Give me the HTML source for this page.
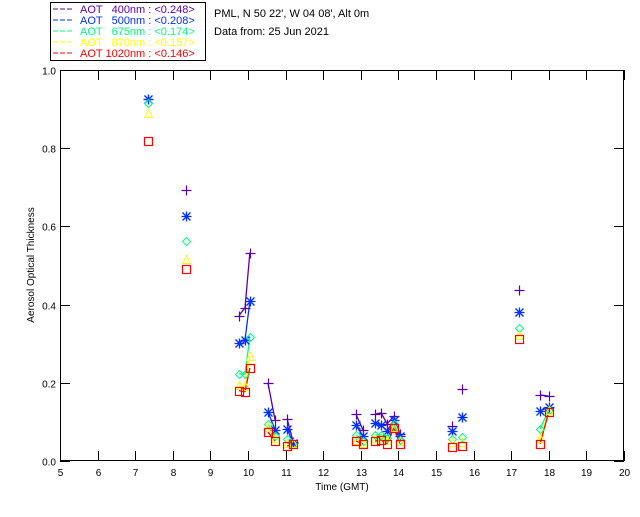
<!DOCTYPE html>
<html><head><meta charset="utf-8">
<style>
body{margin:0;background:#fff;width:640px;height:512px;overflow:hidden;font-family:"Liberation Sans",sans-serif;}
svg text{font-family:"Liberation Sans",sans-serif;}
</style></head>
<body>
<svg id="chart" width="640" height="512" xmlns="http://www.w3.org/2000/svg">
  <g id="legend">
    <rect x="50.5" y="2.5" width="155" height="58" fill="#fff" stroke="#000"/>
  </g>
  <text x="214" y="17" font-size="11" fill="#000">PML, N 50 22', W 04 08', Alt 0m</text>
  <text x="214" y="35" font-size="11" fill="#000">Data from: 25 Jun 2021</text>
  <g id="axes"></g>
  <g id="lines"></g>
  <g id="marks"></g>
  <text x="0" y="0" font-size="10" transform="translate(34,265) rotate(-90)" text-anchor="middle">Aerosol Optical Thickness</text>
  <text x="342" y="490" font-size="10" text-anchor="middle">Time (GMT)</text>
</svg>
<script>
const times = [7.34,8.35,9.76,9.92,10.05,10.53,10.72,11.04,11.2,12.87,13.06,13.38,13.54,13.7,13.88,14.04,15.43,15.69,17.21,17.77,18.0];
const aot400 = [0.926,0.693,0.372,0.392,0.533,0.2,0.105,0.108,0.049,0.12,0.079,0.12,0.123,0.095,0.115,0.069,0.09,0.185,0.438,0.169,0.166];
const aot500 = [0.925,0.626,0.303,0.31,0.408,0.126,0.08,0.082,0.046,0.092,0.064,0.097,0.092,0.077,0.105,0.064,0.077,0.113,0.382,0.128,0.138];
const aot675 = [0.916,0.562,0.223,0.223,0.318,0.095,0.064,0.056,0.043,0.067,0.05,0.067,0.067,0.059,0.095,0.054,0.056,0.062,0.341,0.082,0.131];
const aot870 = [0.887,0.515,0.192,0.19,0.267,0.085,0.056,0.044,0.044,0.052,0.044,0.056,0.056,0.051,0.085,0.049,0.046,0.045,0.32,0.056,0.128];
const aot1020 = [0.818,0.49,0.18,0.177,0.238,0.074,0.051,0.038,0.044,0.051,0.044,0.051,0.054,0.044,0.085,0.044,0.036,0.038,0.313,0.044,0.126];
const groups = [0,1,2,2,2,3,3,4,4,5,5,6,6,6,6,6,7,8,9,10,10];
const xTicks = [5,6,7,8,9,10,11,12,13,14,15,16,17,18,19,20];
const yTicks = [0,0.2,0.4,0.6,0.8,1.0];
const yTickLabels = ["0.0","0.2","0.4","0.6","0.8","1.0"];
const seriesNames = ["400nm","500nm","675nm","870nm","1020nm"];
const seriesMeans = ["<0.248>","<0.208>","<0.174>","<0.157>","<0.146>"];

const NS="http://www.w3.org/2000/svg";
const L=60,R=624,T=70,B=461;
const xs=t=>L+(t-5)/(20-5)*(R-L);
const ys=v=>B-v*(B-T);
function mk(tag,attrs,parent){const e=document.createElementNS(NS,tag);for(const k in attrs)e.setAttribute(k,attrs[k]);parent.appendChild(e);return e;}
const axes=document.getElementById('axes');
mk('rect',{x:L+.5,y:T+.5,width:R-L-1,height:B-T-1,fill:'none',stroke:'#000'},axes);
xTicks.forEach(t=>{
  const x=Math.round(xs(t))+.5;
  const tk=mk('line',{x1:x,y1:B,x2:x,y2:B-10,stroke:'#000'},axes);
  
  
  mk('line',{x1:x,y1:T,x2:x,y2:T+10,stroke:'#000'},axes);
  const lb=mk('text',{x:x,y:B+15,'font-size':10,'text-anchor':'middle'},axes);
  lb.textContent=t;
  
  
});
yTicks.forEach((v,i)=>{
  const y=Math.round(ys(v))+.5;
  mk('line',{x1:L,y1:y,x2:L+10,y2:y,stroke:'#000'},axes);
  mk('line',{x1:R,y1:y,x2:R-10,y2:y,stroke:'#000'},axes);
  const lb=mk('text',{x:56,y:y+4,'font-size':10,'text-anchor':'end'},axes);
  lb.textContent=yTickLabels[i];
  
  
});

const series=[aot400,aot500,aot675,aot870,aot1020];
const colors=['#5a00a8','#0030ff','#00ff80','#ffff00','#ff0000'];
const lines=document.getElementById('lines'),marks=document.getElementById('marks');
series.forEach((s,si)=>{
  for(let i=1;i<times.length;i++){
    if(groups[i]===groups[i-1]){
      const ln=mk('line',{x1:xs(times[i-1]),y1:ys(s[i-1]),x2:xs(times[i]),y2:ys(s[i]),stroke:colors[si],'stroke-width':1.3},lines);
      
      
    }
  }
});
series.forEach((s,si)=>{
  s.forEach((v,i)=>{
    const x=Math.round(xs(times[i]))+.5,y=Math.round(ys(v))+.5,c=colors[si];let e;
    if(si===0){e=mk('path',{d:`M${x-5},${y}H${x+5}M${x},${y-5}V${y+5}`,stroke:c,'stroke-width':1.2,fill:'none'},marks);}
    else if(si===1){e=mk('path',{d:`M${x-5},${y}H${x+5}M${x},${y-5}V${y+5}M${x-4},${y-4}L${x+4},${y+4}M${x-4},${y+4}L${x+4},${y-4}`,stroke:c,'stroke-width':1.3,fill:'none'},marks);}
    else if(si===2){e=mk('path',{d:`M${x},${y-4}L${x+4},${y}L${x},${y+4}L${x-4},${y}Z`,stroke:c,fill:'none'},marks);}
    else if(si===3){e=mk('path',{d:`M${x},${y-5}L${x+4},${y+3}L${x-4},${y+3}Z`,stroke:c,fill:'none'},marks);}
    else {e=mk('rect',{x:x-4,y:y-4,width:8,height:8,stroke:c,fill:'none','stroke-width':1.2},marks);}
    
    
  });
});
const lg=document.getElementById('legend');
seriesNames.forEach((n,i)=>{
  const y=13+i*11;
  mk('line',{x1:53,y1:y-4,x2:74,y2:y-4,stroke:colors[i],'stroke-dasharray':'5,2'},lg);
  const t=mk('text',{x:80,y:y,'font-size':11,fill:colors[i],style:'white-space:pre'},lg);
  t.textContent='AOT '+(n.length<6?'  ':'')+n+' : '+seriesMeans[i];
  
  
});
</script>
</body></html>
